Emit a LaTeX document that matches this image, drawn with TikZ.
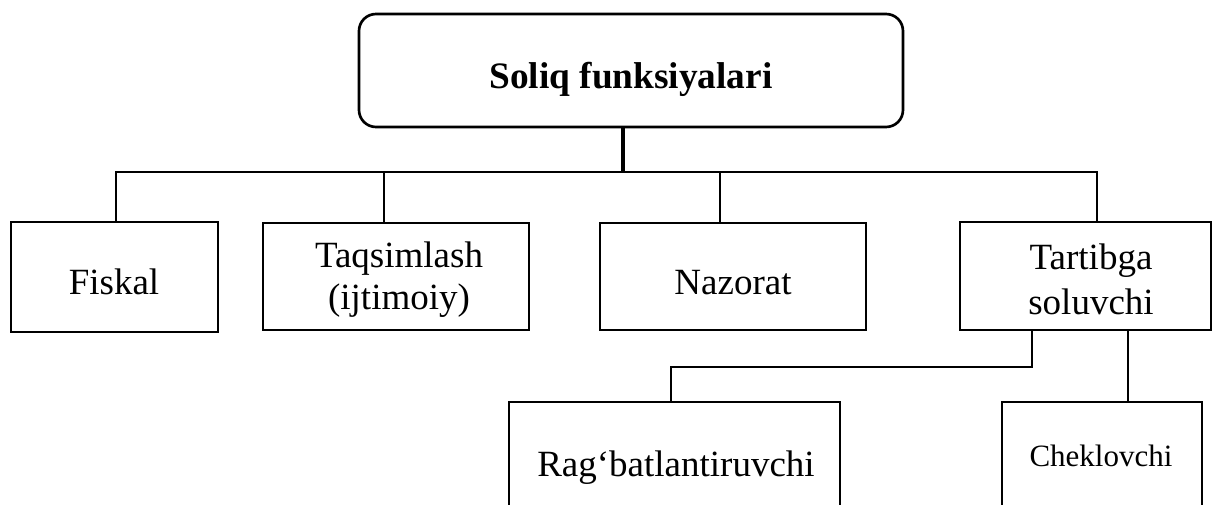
\documentclass[tikz,border=0pt]{standalone}
\usepackage{fontspec}
\setmainfont{Liberation Serif}
\usetikzlibrary{fit}
\begin{document}
\begin{tikzpicture}[x=0.75pt,y=-0.75pt,
  box/.style={draw, line width=1.3pt, inner sep=0pt},
  topbox/.style={draw, line width=2pt, rounded corners=12.75pt, inner sep=0pt},
  txt/.style={inner sep=0pt, align=center, anchor=base,
    font=\fontsize{27.75}{31.5}\selectfont},
  titletxt/.style={inner sep=0pt, anchor=base,
    font=\fontsize{28}{32}\selectfont\bfseries},
  small/.style={font=\fontsize{23.25}{28}\selectfont},
  link/.style={line width=1pt},
  bar/.style={line width=2pt},
  stemline/.style={line width=3.2pt}]
\useasboundingbox (0,0) rectangle (1214,505);
\clip (0,0) rectangle (1214,505);

% boxes
\node[topbox, fit={(359,14) (903,127)}] (top) {};
\node[box, fit={(11,222) (218,332)}] (fisk) {};
\node[box, fit={(263,223) (529,330)}] (taq) {};
\node[box, fit={(600,223) (866,330)}] (naz) {};
\node[box, fit={(960,222) (1211,330)}] (tart) {};
\node[box, fit={(509,402) (840,530)}] (rag) {};
\node[box, fit={(1002,402) (1202,530)}] (chek) {};

% texts (base anchor = baseline of the last line)
\node[titletxt] (topT) at (631,89) {Soliq funksiyalari};
\node[txt] (fiskT) at (114,295) {Fiskal};
\node[txt] (taqT) at (399,310) {Taqsimlash\\(ijtimoiy)};
\node[txt] (nazT) at (733,295) {Nazorat};
\node[txt, font=\fontsize{27.75}{33.75}\selectfont] (tartT) at (1091,315) {Tartibga\\soluvchi};
\node[txt] (ragT) at (676,477) {Rag‘batlantiruvchi};
\node[txt, small] (chekT) at (1101,467) {Cheklovchi};

% junction points
\coordinate (stem) at (623,172);
\coordinate (barL) at (115,172);
\coordinate (barR) at (1098,172);
\coordinate (j1) at (116,172);
\coordinate (j2) at (384,172);
\coordinate (j3) at (720,172);
\coordinate (j4) at (1097,172);
\coordinate (k1) at (1032,367);
\coordinate (k2) at (671,367);
\coordinate (k3) at (1128,367);

% connectors
\draw[stemline] (stem |- top.south) -- (stem);
\draw[bar] (barL) -- (barR);
\draw[link] (j1) -- (j1 |- fisk.north);
\draw[link] (j2) -- (j2 |- taq.north);
\draw[link] (j3) -- (j3 |- naz.north);
\draw[link] (j4) -- (j4 |- tart.north);
\draw[link] (k1 |- tart.south) -- (k1) -- (k2) -- (k2 |- rag.north);
\draw[link] (k3 |- tart.south) -- (k3 |- chek.north);
\end{tikzpicture}
\end{document}
